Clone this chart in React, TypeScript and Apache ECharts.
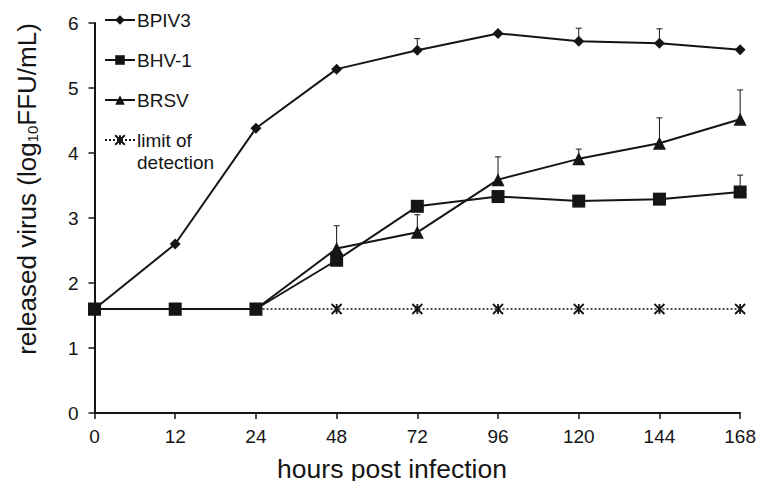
import React, { useEffect, useRef } from "react";
import * as echarts from "echarts";

const hours = ["0", "12", "24", "48", "72", "96", "120", "144", "168"];
const bpiv3 = [1.6, 2.6, 4.38, 5.29, 5.58, 5.84, 5.72, 5.69, 5.59];
const bhv1 = [1.6, 1.6, 1.6, 2.35, 3.18, 3.33, 3.26, 3.29, 3.4];
const brsv = [1.6, 1.6, 1.6, 2.53, 2.78, 3.59, 3.91, 4.15, 4.52];
const lod = [1.6, 1.6, 1.6, 1.6, 1.6, 1.6, 1.6, 1.6, 1.6];
// [category index, mean, upper end of error bar]
const bpiv3Err = [[4, 5.58, 5.76], [6, 5.72, 5.92], [7, 5.69, 5.91]];
const bhv1Err = [[6, 3.26, 3.33], [8, 3.4, 3.66]];
const brsvErr = [[3, 2.53, 2.88], [4, 2.78, 3.05], [5, 3.59, 3.94], [6, 3.91, 4.06], [7, 4.15, 4.54], [8, 4.52, 4.97]];
const yTicks = [0, 1, 2, 3, 4, 5, 6];

const FONT = "Liberation Sans, Arial, sans-serif";
const INK = "#151515";
const asterisk = "path://M0 0L10 10M10 0L0 10M5 0L5 10";

const errRender = (params: any, api: any) => {
  const p = api.coord([api.value(0), api.value(1)]);
  const u = api.coord([api.value(0), api.value(2)]);
  const style = { stroke: INK, lineWidth: 1 };
  return {
    type: "group",
    children: [
      { type: "line", shape: { x1: p[0], y1: p[1], x2: u[0], y2: u[1] }, style },
      { type: "line", shape: { x1: u[0] - 3, y1: u[1], x2: u[0] + 3, y2: u[1] }, style },
    ],
  };
};

export default function App() {
  const ref = useRef<HTMLDivElement>(null);
  useEffect(() => {
    if (!ref.current) return;
    const chart = echarts.init(ref.current, null, { renderer: "svg" });
    const lineSeries = (name: string, data: number[], symbol: string, size: number, dotted = false) => ({
      name,
      type: "line",
      data,
      symbol,
      symbolSize: size,
      showAllSymbol: true,
      lineStyle: { color: INK, width: dotted ? 1.6 : 2, type: dotted ? [2, 2] : "solid" },
      itemStyle: dotted
        ? { color: INK, borderColor: INK, borderWidth: 1.8 }
        : { color: INK, borderColor: INK, borderWidth: 0 },
      z: dotted ? 2 : 3,
    });
    const errSeries = (data: number[][]) => ({
      type: "custom",
      renderItem: errRender,
      data,
      z: 1,
      silent: true,
    });
    const legendText = { fontSize: 19, color: INK, fontFamily: FONT, padding: [0, 0, 0, -3] };
    chart.setOption({
      animation: false,
      textStyle: { fontFamily: FONT },
      grid: { left: 86.5, right: 11, top: 15, bottom: 76 },
      legend: [
        {
          orient: "vertical",
          left: 96,
          top: 2.5,
          padding: 0,
          itemGap: 21,
          itemWidth: 30,
          itemHeight: 12,
          data: ["BPIV3", "BHV-1", "BRSV"],
          textStyle: legendText,
        },
        {
          orient: "vertical",
          left: 96,
          top: 122.5,
          padding: 0,
          itemWidth: 30,
          itemHeight: 12,
          data: ["limit of detection"],
          formatter: () => "limit of",
          textStyle: legendText,
        },
      ],
      graphic: [
        {
          type: "text",
          left: 129,
          top: 145,
          style: { text: "detection", fontSize: 19, fill: INK, fontFamily: FONT },
        },
        {
          type: "text",
          x: 18.5,
          y: 181,
          rotation: Math.PI / 2,
          style: {
            text: "released virus (log{sub|10}FFU/mL)",
            fontSize: 26,
            fill: INK,
            fontFamily: FONT,
            align: "center",
            verticalAlign: "middle",
            rich: {
              sub: { fontSize: 15, fill: INK, fontFamily: FONT, verticalAlign: "bottom", padding: [10, 0, 0, 0] },
            },
          },
        },
        {
          type: "text",
          x: 384,
          y: 461,
          style: {
            text: "hours post infection",
            fontSize: 26.5,
            fill: INK,
            fontFamily: FONT,
            align: "center",
            verticalAlign: "middle",
          },
        },
      ],
      xAxis: {
        type: "category",
        data: hours,
        boundaryGap: false,
        axisLine: { lineStyle: { color: INK, width: 2 } },
        axisTick: { alignWithLabel: true, length: 6, lineStyle: { color: INK, width: 1.5 } },
        axisLabel: { fontSize: 19, color: INK, margin: 14, fontFamily: FONT },
        splitLine: { show: false },
      },
      yAxis: {
        type: "value",
        min: yTicks[0],
        max: yTicks[yTicks.length - 1],
        interval: 1,
        axisLine: { show: true, lineStyle: { color: INK, width: 2 } },
        axisTick: { show: true, length: 6, lineStyle: { color: INK, width: 1.5 } },
        axisLabel: { fontSize: 19, color: INK, margin: 16, fontFamily: FONT },
        splitLine: { show: false },
      },
      series: [
        lineSeries("BPIV3", bpiv3, "diamond", 11),
        lineSeries("BHV-1", bhv1, "rect", 13),
        lineSeries("BRSV", brsv, "triangle", 13),
        lineSeries("limit of detection", lod, asterisk, 10, true),
        errSeries(bpiv3Err),
        errSeries(bhv1Err),
        errSeries(brsvErr),
      ],
    });
    return () => chart.dispose();
  }, []);
  return <div ref={ref} style={{ width: 751, height: 481, marginBottom: -8 }} />;
}
